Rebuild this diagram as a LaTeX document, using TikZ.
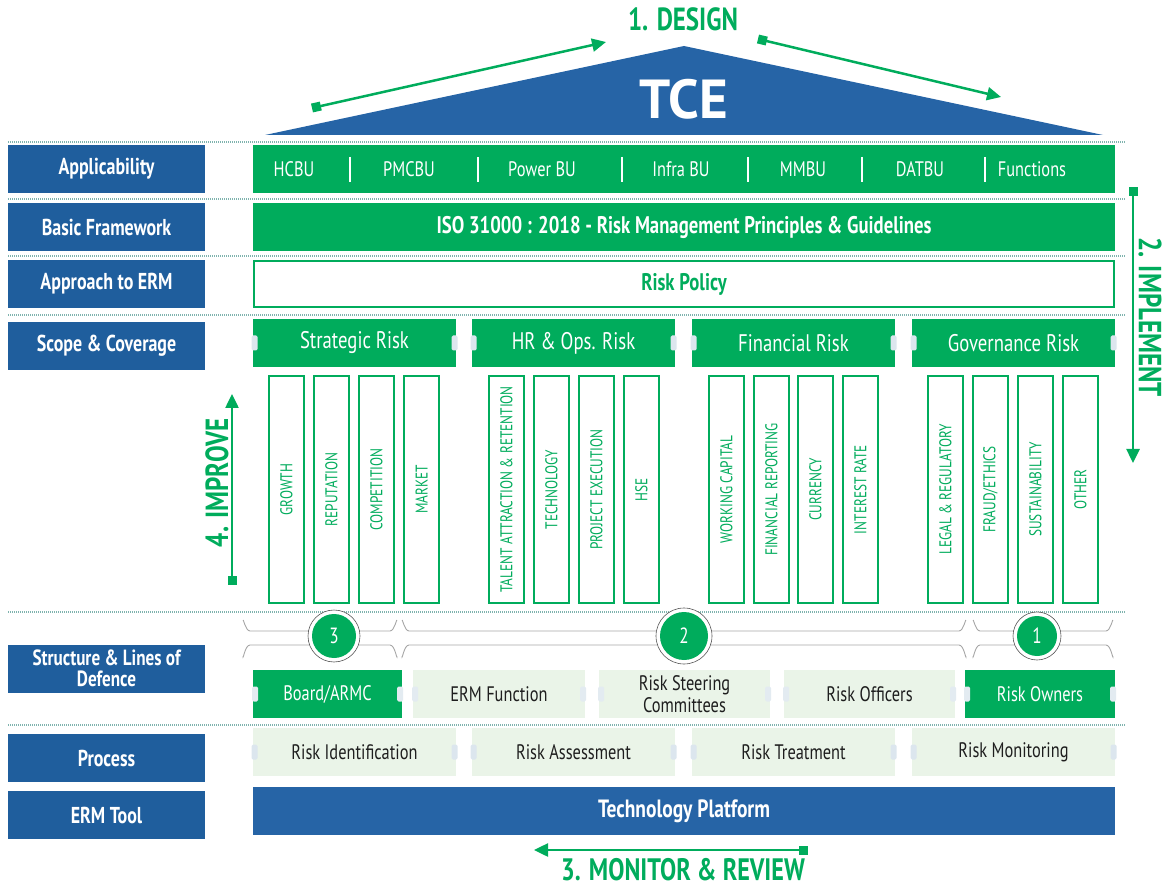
\documentclass[tikz,border=0pt]{standalone}
\usepackage{fontspec}
\setmainfont{PT Sans}[FakeStretch=0.78]
\newfontfamily\widefont{PT Sans}
\usetikzlibrary{arrows.meta}
\definecolor{grn}{HTML}{00AC5C}
\definecolor{blu}{HTML}{2664A6}
\definecolor{lblu}{HTML}{1F5E9D}
\definecolor{lgrn}{HTML}{EAF4E8}
\definecolor{dotc}{HTML}{7FB3AE}
\definecolor{tabc}{HTML}{DCE6EE}
\definecolor{ink}{HTML}{1E1E1E}
\definecolor{ringc}{HTML}{555555}
\begin{document}
\begin{tikzpicture}[x=1pt,y=-1pt,
  every node/.style={inner sep=0pt,outer sep=0pt},
  lbl/.style={fill=lblu,text=white,minimum width=197,minimum height=48,font=\fontsize{23}{22}\selectfont\bfseries,align=center},
  gbar/.style={fill=grn,text=white,minimum height=48,font=\fontsize{24}{24}\selectfont},
  lbox/.style={fill=lgrn,text=ink,minimum height=48,font=\fontsize{21}{23}\selectfont,align=center},
  pillar/.style={draw=grn,line width=2.2pt,fill=white,minimum width=35,minimum height=227},
  ptext/.style={text=grn,rotate=90,font=\fontsize{17}{18}\selectfont},
  sep/.style={dotc,line width=1.3pt,dash pattern=on 1pt off 1pt},
  garsq/.style={grn,line width=2.5pt,{Square[length=9pt,width=9pt]}-{Triangle[length=14pt,width=13pt]}},
  phase/.style={text=grn,font=\fontsize{32}{33}\selectfont\bfseries},
  tabm/.style={fill=tabc,rounded corners=1.5pt,minimum width=6,minimum height=15},
  brk/.style={draw=gray!70,line width=0.9pt},
  ring/.style={circle,draw=ringc,line width=0.6pt,fill=white},
  num/.style={circle,fill=grn,text=white,font=\fontsize{22}{22}\selectfont}
]
\useasboundingbox (0,0) rectangle (1165,890);

% roof
\fill[blu] (265,135) coordinate (rl) -- (684,46) coordinate (rt) -- (1103,135) coordinate (rr) -- cycle;
\node[text=white,font=\widefont\fontsize{55}{55}\selectfont\bfseries] (tce) at (684,99) {TCE};
\node[phase,anchor=base] (design) at (683,31) {1. DESIGN};
\coordinate (d1) at (312,108); \coordinate (d2) at (606,42);
\coordinate (d3) at (758,39); \coordinate (d4) at (1001,97);
\draw[garsq] (d1) -- (d2);
\draw[garsq] (d3) -- (d4);

% separators
\foreach \yy in {142,199,256,315,612,725} \draw[sep] (8,\yy) -- (1125,\yy);

% left labels
\node[lbl] (lA) at (106.5,169) {Applicability};
\node[lbl] (lB) at (106.5,227) {Basic Framework};
\node[lbl] (lC) at (106.5,284) {Approach to ERM};
\node[lbl] (lD) at (106.5,346) {Scope \& Coverage};
\node[lbl,font=\fontsize{22}{21}\selectfont\bfseries] (lE) at (106.5,668.5) {Structure \& Lines of\\Defence};
\node[lbl] (lF) at (106.5,758) {Process};
\node[lbl] (lG) at (106.5,815) {ERM Tool};

% applicability bar
\node[gbar,minimum width=862] (appl) at (684,169) {};
\foreach \xx/\tt [count=\i] in {294/HCBU,409/PMCBU,542/Power BU,681/Infra BU,803/MMBU,920/DATBU,1032/Functions}
  \node[text=white,font=\fontsize{21}{22}\selectfont] (ap\i) at (\xx,169) {\tt};
\foreach \xx in {350,478,622,748,862,985} \draw[white,line width=2.4pt] (\xx,157) -- (\xx,182);

% ISO bar
\node[gbar,minimum width=862,font=\fontsize{24}{24}\selectfont\bfseries] (iso) at (684,227) {ISO 31000 : 2018 - Risk Management Principles \& Guidelines};
% risk policy
\node[draw=grn,line width=2pt,fill=white,minimum width=860,minimum height=46,text=grn,font=\fontsize{24}{24}\selectfont\bfseries] (policy) at (684,284) {Risk Policy};

% scope boxes
\foreach \xx/\tt [count=\i] in {354.5/Strategic Risk,573.5/HR \& Ops. Risk,793.5/Financial Risk,1013.5/Governance Risk}{
  \node[gbar,minimum width=203] (s\i) at (\xx,343) {\tt};
  \node[tabm] at (\xx-100,343) {};
  \node[tabm] at (\xx+100,343) {};
}

% pillars
\foreach \xx/\tt [count=\i] in {268/GROWTH,313/REPUTATION,358/COMPETITION,403/MARKET,
  488/TALENT ATTRACTION \& RETENTION,533/TECHNOLOGY,578/PROJECT EXECUTION,623/HSE,
  708/WORKING CAPITAL,753/FINANCIAL REPORTING,797/CURRENCY,842/INTEREST RATE,
  927/LEGAL \& REGULATORY,972/{FRAUD/ETHICS},1017/SUSTAINABILITY,1062/OTHER}{
  \node[pillar] (p\i) at (\xx+18.5,489.5) {};
  \node[ptext] at (p\i.center) {\tt};
}

% brackets
\foreach \a/\b in {243/397,402/966,973/1113}{
  \draw[brk] (\a,621) to[out=90,in=180] (\a+7,631) -- (\b-7,631) to[out=0,in=90] (\b,621);
  \draw[brk] (\a,656) to[out=-90,in=180] (\a+7,645) -- (\b-7,645) to[out=0,in=-90] (\b,656);
}
\node[ring,minimum size=52] (r3) at (334,636) {};
\node[num,minimum size=44] (c3) at (334,636) {3};
\node[ring,minimum size=56] (r2) at (684,636) {};
\node[num,minimum size=48] (c2) at (684,636) {2};
\node[ring,minimum size=48] (r1) at (1037,636) {};
\node[num,minimum size=40] (c1) at (1037,636) {1};

% structure boxes
\node[gbar,minimum width=149,font=\fontsize{21}{23}\selectfont] (st1) at (327.5,694) {Board/ARMC};
\node[lbox,minimum width=172] (st2) at (499,694) {ERM Function};
\node[lbox,minimum width=171,font=\fontsize{21}{22}\selectfont] (st3) at (684.5,694) {Risk Steering\\Committees};
\node[lbox,minimum width=171] (st4) at (869.5,694) {Risk Officers};
\node[gbar,minimum width=150,font=\fontsize{21}{23}\selectfont] (st5) at (1040,694) {Risk Owners};
\foreach \xx in {255,400,415,583,601,768,786,953,967,1113} \node[tabm,fill=tabc!80] at (\xx,694) {};

% process boxes
\foreach \xx/\tt [count=\i] in {354.5/Risk Identification,573.5/Risk Assessment,793.5/Risk Treatment,1013.5/Risk Monitoring}{
  \node[lbox,minimum width=203] (pr\i) at (\xx,752) {\tt};
  \node[tabm] at (\xx-100,752) {};
  \node[tabm] at (\xx+100,752) {};
}

% technology platform
\node[fill=blu,text=white,minimum width=862,minimum height=48,font=\fontsize{25}{25}\selectfont\bfseries] (tech) at (684,811) {Technology Platform};

% implement arrow
\coordinate (i1) at (1133,187); \coordinate (i2) at (1133,463);
\draw[garsq] (i1) -- (i2);
\node[phase,rotate=-90] (impl) at (1150,317) {2. IMPLEMENT};

% improve arrow
\coordinate (m1) at (232,585); \coordinate (m2) at (232,394);
\draw[garsq] (m1) -- (m2);
\node[phase,rotate=90] (impr) at (217,483) {4. IMPROVE};

% monitor arrow
\coordinate (o1) at (808,850); \coordinate (o2) at (534,850);
\draw[garsq] (o1) -- (o2);
\node[phase,anchor=base,font=\fontsize{31}{32}\selectfont\bfseries] (mon) at (683,880) {3. MONITOR \& REVIEW};
\end{tikzpicture}
\end{document}
